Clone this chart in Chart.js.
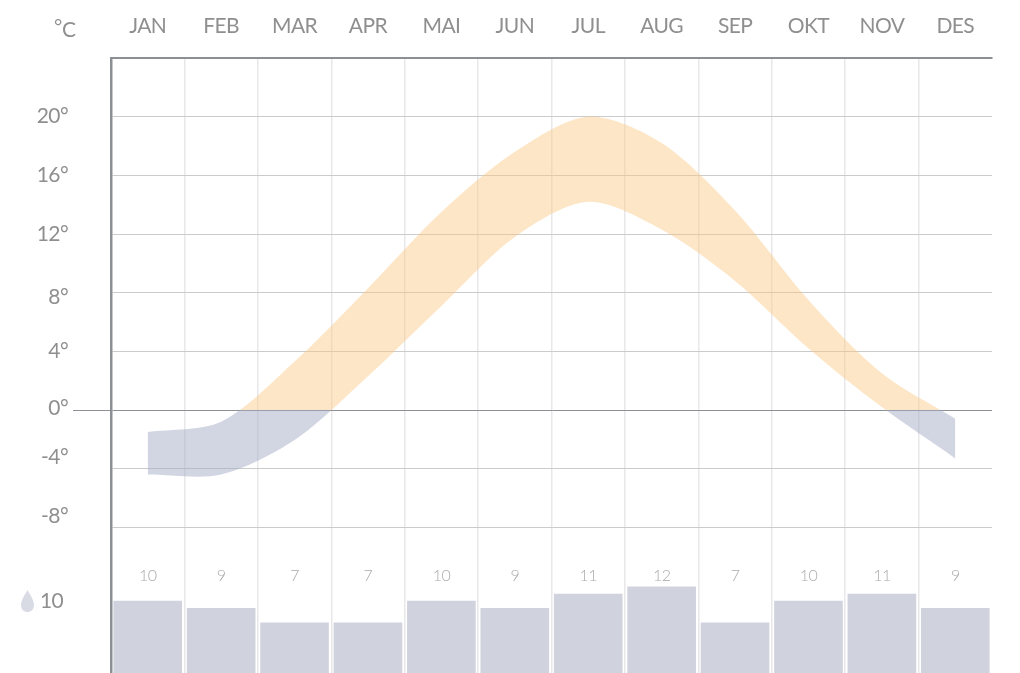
<!DOCTYPE html>
<html>
<head>
<meta charset="utf-8">
<title>Klima</title>
<script src="https://cdn.jsdelivr.net/npm/chart.js@4"></script>
<style>
    html, body { margin: 0; padding: 0; background: #fff; overflow: hidden; }
    canvas { display: block; }
</style>
</head>
<body>
<canvas id="klima" width="1020" height="673"></canvas>
<script>
"use strict";
var months = ["JAN", "FEB", "MAR", "APR", "MAI", "JUN", "JUL", "AUG", "SEP", "OKT", "NOV", "DES"];
var tempHigh = [-1.5, -0.8, 3.3, 8.3, 13.5, 17.6, 20, 18.2, 13.6, 7.5, 2.5, -0.6];
var tempLow = [-4.4, -4.4, -2.05, 2.3, 7.1, 11.8, 14.2, 12.3, 8.8, 4.2, 0.2, -3.3];
var rainDays = [10, 9, 7, 7, 10, 9, 11, 12, 7, 10, 11, 9];
var tempTicks = [20, 16, 12, 8, 4, 0, -4, -8];
var rainAverage = "10";
var unitLabel = "C";

var labelFont = "Lato, 'Liberation Sans', sans-serif";
var labelColor = "#8f8f8f";

// some labels in the original are not level with their grid line (px, + is down)
function labelNudge(value) {
    if (value === 8) return 5;
    if (value === 0) return -2;
    if (value < 0) return -11;
    return 0;
}

// hard colour stop at 0 degrees, orange above and blue below
function bandColor(context) {
    var chart = context.chart;
    if (!chart.chartArea) {
        return "rgba(251,200,130,0.45)";
    }
    var zero = (chart.scales.y.getPixelForValue(0) - chart.chartArea.top) / chart.chartArea.height;
    var gradient = chart.ctx.createLinearGradient(0, chart.chartArea.top, 0, chart.chartArea.bottom);
    gradient.addColorStop(0, "rgba(251,200,130,0.45)");
    gradient.addColorStop(zero, "rgba(251,200,130,0.45)");
    gradient.addColorStop(zero, "rgba(165,172,197,0.5)");
    gradient.addColorStop(1, "rgba(165,172,197,0.5)");
    return gradient;
}

// rain numbers, unit and drop sit outside what the axes can draw
var extraText = {
    id: "extraText",
    beforeDraw: function (chart) {
        // the original type is condensed, squeeze the letters a bit
        chart.ctx.letterSpacing = "-0.6px";
    },
    afterDatasetsDraw: function (chart) {
        var ctx = chart.ctx;
        var x = chart.scales.x;
        ctx.save();
        ctx.textAlign = "center";
        ctx.textBaseline = "middle";
        ctx.fillStyle = "#ababab";
        ctx.font = "300 16px " + labelFont;
        rainDays.forEach(function (v, i) {
            ctx.fillText(String(v), x.getPixelForValue(i), 576);
        });

        ctx.fillStyle = labelColor;
        ctx.font = "21px " + labelFont;
        ctx.textAlign = "left";
        ctx.fillText(rainAverage, 40, 601);
        ctx.fillText(unitLabel, 62, 30);
        ctx.font = "20px " + labelFont;
        ctx.fillText("°", 54, 27);

        // drop
        ctx.beginPath();
        ctx.moveTo(27.5, 590);
        ctx.bezierCurveTo(24, 596, 21, 601, 21, 605);
        ctx.bezierCurveTo(21, 609.5, 24, 612, 27.5, 612);
        ctx.bezierCurveTo(31, 612, 34, 609.5, 34, 605);
        ctx.bezierCurveTo(34, 601, 31, 596, 27.5, 590);
        ctx.fillStyle = "#d8dbe4";
        ctx.fill();
        ctx.restore();
    }
};

new Chart(document.getElementById("klima"), {
    plugins: [extraText],
    data: {
        labels: months,
        datasets: [
            {
                type: "line",
                data: tempHigh,
                yAxisID: "y",
                fill: "+1",
                backgroundColor: bandColor,
                borderWidth: 0,
                pointRadius: 0,
                tension: 0.3
            },
            {
                type: "line",
                data: tempLow,
                yAxisID: "y",
                fill: false,
                borderWidth: 0,
                pointRadius: 0,
                tension: 0.3
            },
            {
                type: "bar",
                data: rainDays,
                yAxisID: "rain",
                backgroundColor: "#d0d3de",
                barThickness: 68
            }
        ]
    },
    options: {
        responsive: false,
        animation: false,
        layout: { autoPadding: false, padding: { left: 0, right: 28, top: 0, bottom: 0 } },
        plugins: {
            legend: { display: false },
            tooltip: { enabled: false }
        },
        scales: {
            x: {
                position: "top",
                offset: true,
                afterFit: function (scale) {
                    scale.height = 58;
                    scale.paddingLeft = scale.paddingRight = 0;
                },
                border: { color: "#8c9094", width: 2 },
                grid: {
                    offset: true,
                    drawTicks: false,
                    lineWidth: 1.5,
                    color: function (context) {
                        return context.index === undefined ? "rgba(0,0,0,0)" : "#e8e8ea";
                    }
                },
                ticks: {
                    color: labelColor,
                    font: { family: labelFont, size: 21 },
                    padding: 19,
                    maxRotation: 0,
                    autoSkip: false
                }
            },
            y: {
                position: "left",
                min: -17.93,
                max: 24,
                afterFit: function (scale) {
                    scale.width = 111;
                    scale.paddingTop = scale.paddingBottom = 0;
                },
                afterBuildTicks: function (scale) {
                    scale.ticks = tempTicks.map(function (v) { return { value: v }; });
                },
                border: { color: "#8c9094", width: 2.5 },
                grid: {
                    tickLength: 38,
                    color: function (context) {
                        return context.tick && context.tick.value === 0 ? "#8c9094" : "#cbcbcb";
                    },
                    tickColor: function (context) {
                        return context.tick && context.tick.value === 0 ? "#8c9094" : "rgba(0,0,0,0)";
                    }
                },
                ticks: {
                    color: labelColor,
                    padding: 5,
                    // a blank line above or below the text shifts it by half the line height
                    font: function (context) {
                        var nudge = context.tick ? Math.abs(labelNudge(context.tick.value)) : 0;
                        return { family: labelFont, size: 21, lineHeight: nudge ? (nudge * 2) + "px" : 1 };
                    },
                    callback: function (value) {
                        var label = value + "°";
                        var nudge = labelNudge(value);
                        if (nudge < 0) return [label, ""];
                        if (nudge > 0) return ["", label];
                        return label;
                    }
                }
            },
            rain: {
                display: false,
                position: "left",
                min: 0,
                max: 85.6
            }
        }
    }
});
</script>
</body>
</html>
